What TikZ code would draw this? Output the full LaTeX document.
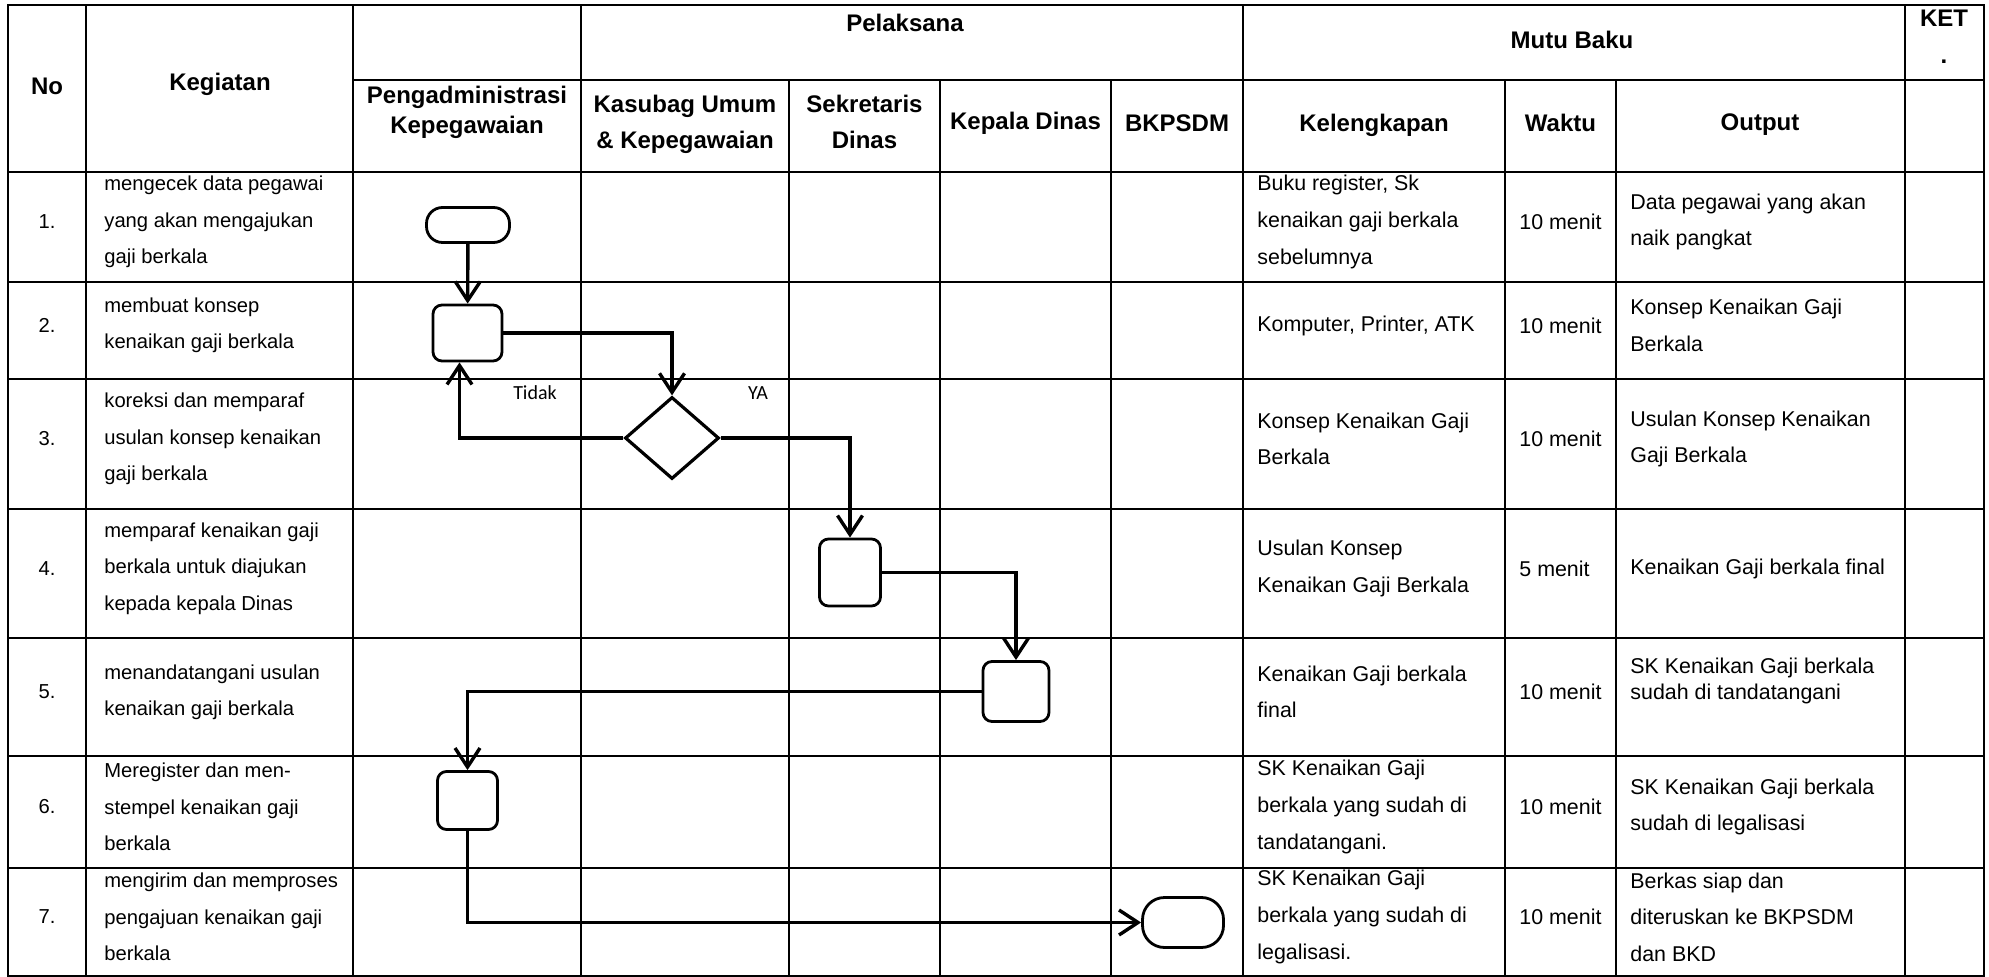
\documentclass[tikz,border=0pt]{standalone}
\usepackage{fontspec}
\setmainfont{Liberation Sans}
\newfontfamily\labelfont{Carlito}
\usetikzlibrary{arrows.meta, shapes.geometric, positioning}

\tikzset{
  grid/.style={line width=1.1pt},
  proc/.style={draw, line width=1.4pt, rounded corners=4.5pt, inner sep=0pt},
  term/.style={draw, line width=1.4pt, inner sep=0pt},
  dec/.style={draw, diamond, line width=1.6pt, inner sep=0pt, minimum width=47pt, minimum height=41pt},
  flow/.style={line width=1.7pt, -{Straight Barb[length=9.5pt, width=12.5pt]}},
  hd/.style={font=\fontsize{12}{18}\selectfont\bfseries, align=center, inner sep=0pt},
  keg/.style={font=\fontsize{10.1}{18.2}\selectfont, align=left, anchor=west, inner sep=0pt},
  mutu/.style={font=\fontsize{10.7}{18.3}\selectfont, align=left, anchor=west, inner sep=0pt},
  num/.style={font=\fontsize{10.1}{18.2}\selectfont, inner sep=0pt},
  lab/.style={font=\labelfont\fontsize{10}{12}\selectfont, inner sep=0pt}
}

\begin{document}
\begin{tikzpicture}[x=0.5pt, y=-0.5pt]
  \useasboundingbox (0,0) rectangle (1989,977);
  % table rules
  \draw[grid] (8,5) rectangle (1984,976);
  \draw[grid] (353,80) -- (1984,80);
  \foreach \y in {172,282,379,509,638,756,868} \draw[grid] (8,\y) -- (1984,\y);
  \foreach \x in {86,353,581,1243,1905} \draw[grid] (\x,5) -- (\x,976);
  \foreach \x in {789,940,1111,1505,1616} \draw[grid] (\x,80) -- (\x,976);

  % header
  \node[hd] (hno) at (47,86) {No};
  \node[hd] (hkeg) at (220,84) {Kegiatan};
  \node[hd] (hpel) at (905,23) {Pelaksana};
  \node[hd] (hmutu) at (1572,40) {Mutu Baku};
  \node[hd] (hket) at (1944,18) {KET};
  \node[hd] (hdot) at (1944,62) {.};
  \node[hd, font=\fontsize{12}{15}\selectfont\bfseries] (hpeng) at (467,112) {Pengadministrasi\\Kepegawaian};
  \node[hd] (hkas) at (685,124) {Kasubag Umum\\\& Kepegawaian};
  \node[hd] (hsek) at (864.5,121.5) {Sekretaris\\Dinas};
  \node[hd] (hkep) at (1025.5,123) {Kepala Dinas};
  \node[hd] (hbkp) at (1177,123) {BKPSDM};
  \node[hd] (hkel) at (1374,125) {Kelengkapan};
  \node[hd] (hwkt) at (1560.5,123) {Waktu};
  \node[hd] (hout) at (1760,125) {Output};

  % rows
  \foreach \i/\y in {1/222,2/325.5,3/439,4/568.5,5/692,6/807,7/917}
    \node[num] (n\i) at (47,\y) {\i.};
  \node[keg] (k1) at (104,222) {mengecek data pegawai\\yang akan mengajukan\\gaji berkala};
  \node[keg] (k2) at (104,325.5) {membuat konsep\\kenaikan gaji berkala};
  \node[keg] (k3) at (104,439) {koreksi dan memparaf\\usulan konsep kenaikan\\gaji berkala};
  \node[keg] (k4) at (104,568.5) {memparaf kenaikan gaji\\berkala untuk diajukan\\kepada kepala Dinas};
  \node[keg] (k5) at (104,692) {menandatangani usulan\\kenaikan gaji berkala};
  \node[keg] (k6) at (104,807) {Meregister dan men-\\stempel kenaikan gaji\\berkala};
  \node[keg] (k7) at (104,917) {mengirim dan memproses\\pengajuan kenaikan gaji\\berkala};

  \node[mutu] (l1) at (1257,222) {Buku register, Sk\\kenaikan gaji berkala\\sebelumnya};
  \node[mutu] (l2) at (1257,325.5) {Komputer, Printer, ATK};
  \node[mutu] (l3) at (1257,439) {Konsep Kenaikan Gaji\\Berkala};
  \node[mutu] (l4) at (1257,568.5) {Usulan Konsep\\Kenaikan Gaji Berkala};
  \node[mutu] (l5) at (1257,692) {Kenaikan Gaji berkala\\final};
  \node[mutu] (l6) at (1257,807) {SK Kenaikan Gaji\\berkala yang sudah di\\tandatangani.};
  \node[mutu] (l7) at (1257,917) {SK Kenaikan Gaji\\berkala yang sudah di\\legalisasi.};

  \foreach \i/\y in {1/222,2/325.5,3/439,5/692,6/807,7/917}
    \node[mutu] (w\i) at (1519,\y) {10 menit};
  \node[mutu] (w4) at (1519,568.5) {5 menit};

  \node[mutu] (o1) at (1630,222) {Data pegawai yang akan\\naik pangkat};
  \node[mutu] (o2) at (1630,325.5) {Konsep Kenaikan Gaji\\Berkala};
  \node[mutu] (o3) at (1630,439) {Usulan Konsep Kenaikan\\Gaji Berkala};
  \node[mutu] (o4) at (1630,568.5) {Kenaikan Gaji berkala final};
  \node[mutu, font=\fontsize{10.7}{12.8}\selectfont] (o5) at (1630,681) {SK Kenaikan Gaji berkala\\sudah di tandatangani};
  \node[mutu] (o6) at (1630,807) {SK Kenaikan Gaji berkala\\sudah di legalisasi};
  \node[mutu] (o7) at (1630,917) {Berkas siap dan\\diteruskan ke BKPSDM\\dan BKD};

  % flow
  \node[term, minimum width=41.5pt, minimum height=17.5pt, rounded corners=8pt] (t1) at (468,225) {};
  \node[proc, minimum width=34.5pt, minimum height=28pt] (p2) at (467.5,333) {};
  \node[dec] (d3) at (672,438) {};
  \node[proc, minimum width=30.5pt, minimum height=33.5pt] (p4) at (850,572.5) {};
  \node[proc, minimum width=33pt, minimum height=30pt] (p5) at (1016,691.5) {};
  \node[proc, minimum width=30pt, minimum height=29pt] (p6) at (467.5,800.5) {};
  \node[term, minimum width=40.5pt, minimum height=25pt, rounded corners=11pt] (t7) at (1183,922.5) {};
  \node[lab] (tidak) at (535,393) {Tidak};
  \node[lab] (ya) at (758,393) {YA};

  \draw[flow] (t1) -- (p2);
  \draw[flow] (p2.east) -| (d3.north);
  \draw[flow] (d3.west) -| ([xshift=-4pt]p2.south);
  \draw[flow] (d3.east) -| (p4.north);
  \draw[flow] (p4.east) -| (p5.north);
  \draw[flow] (p5.west) -| (p6.north);
  \draw[flow] (p6.south) |- (t7.west);
\end{tikzpicture}
\end{document}
